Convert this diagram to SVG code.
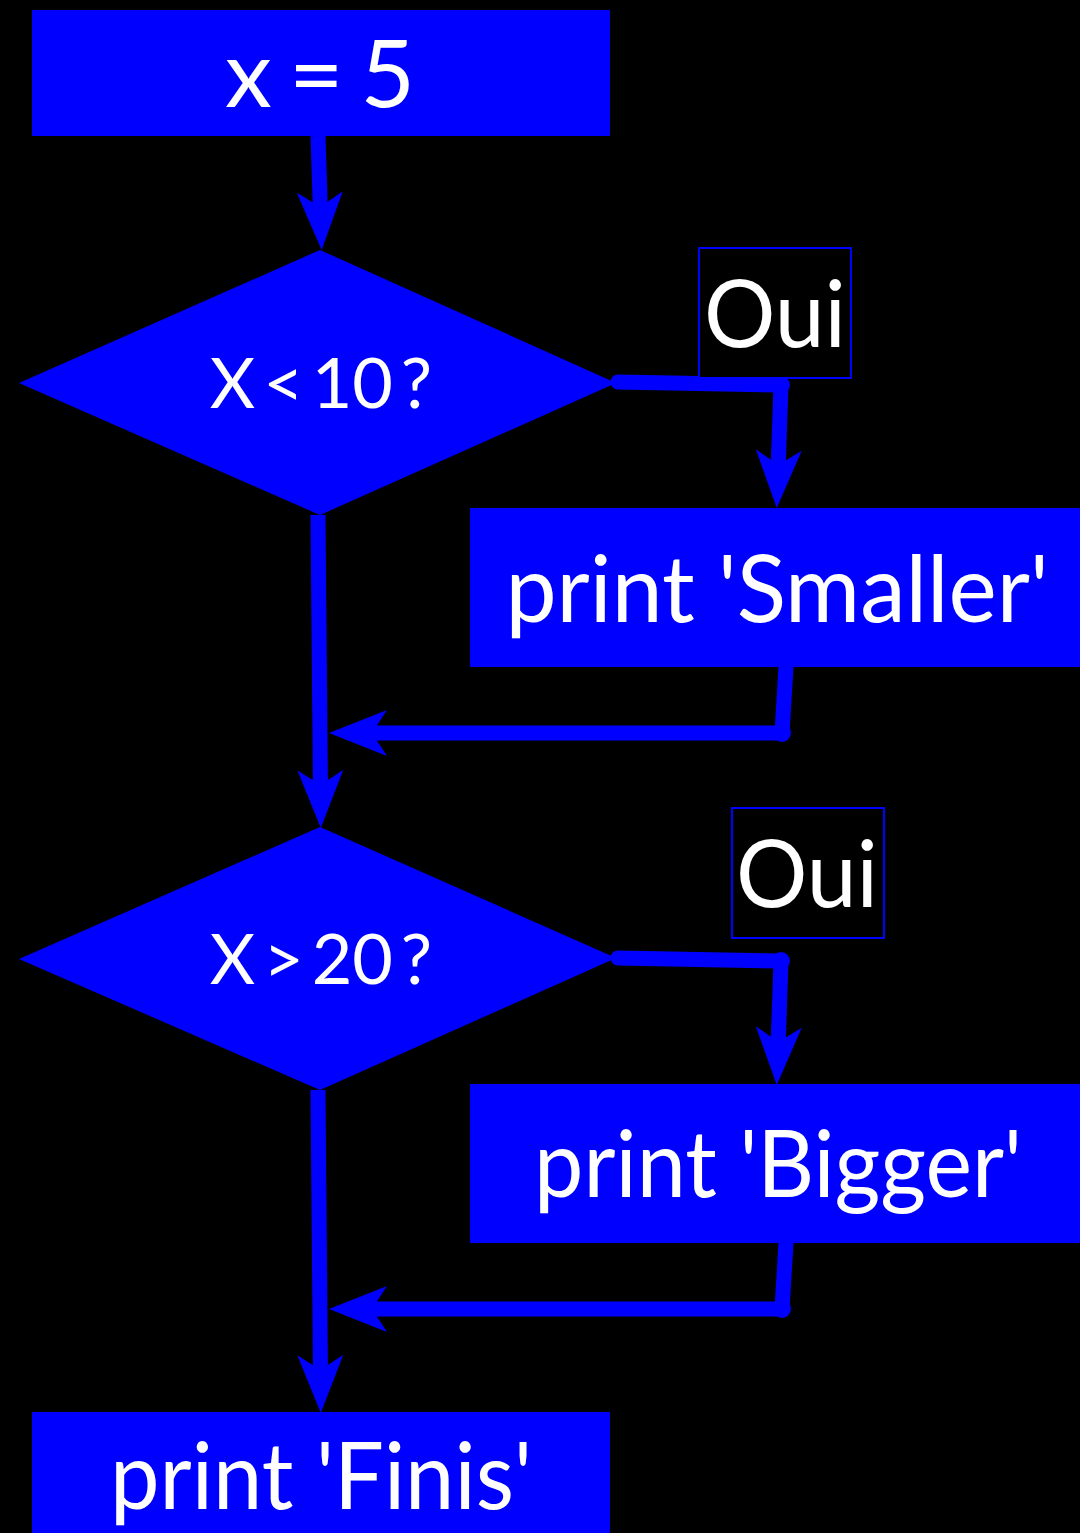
<svg xmlns="http://www.w3.org/2000/svg" width="1080" height="1533" viewBox="0 0 1080 1533">
  <style>
    .shape { fill: #0000ff; }
    .label { fill: #ffffff; font-family: Lato, "Open Sans", "Liberation Sans", sans-serif; text-anchor: middle; }
    .big { font-size: 94px; }
    .cond { font-size: 70px; word-spacing: -10px; }
    .tag { fill: #000000; stroke: #0000ff; stroke-width: 2; }
    .wire { fill: none; stroke: #0000ff; stroke-width: 15; stroke-linecap: round; stroke-linejoin: round; }
    .wire.plain { stroke-linecap: butt; }
    .dot { fill: #0000ff; }
  </style>
  <defs>
    <marker id="head" viewBox="0 -23 58 46" markerWidth="58" markerHeight="46" refX="22" refY="0" orient="auto" markerUnits="userSpaceOnUse">
      <path d="M0,-23 L58,0 L0,23 L15,0 Z" fill="#0000ff"/>
    </marker>
  </defs>

  <rect width="1080" height="1533" fill="#000000"/>

  <!-- connectors -->
  <g id="connectors">
    <!-- x = 5 to first test -->
    <path class="wire plain" d="M318,136 L320.5,214" marker-end="url(#head)"/>
    <!-- first test, yes branch -->
    <path class="wire" d="M618,382 L781,385 L778,472" marker-end="url(#head)"/>
    <circle class="dot" cx="781" cy="385" r="9"/>
    <!-- Smaller back to main line -->
    <path class="wire" d="M786,667 L782,733 L365,733" marker-end="url(#head)"/>
    <circle class="dot" cx="782" cy="733" r="9"/>
    <!-- first test, main line down -->
    <path class="wire plain" d="M318,515 L320.5,792" marker-end="url(#head)"/>
    <!-- second test, yes branch -->
    <path class="wire" d="M618,958 L781,961 L778,1049" marker-end="url(#head)"/>
    <circle class="dot" cx="781" cy="961" r="9"/>
    <!-- Bigger back to main line -->
    <path class="wire" d="M786,1243 L782,1309 L365,1309" marker-end="url(#head)"/>
    <circle class="dot" cx="782" cy="1309" r="9"/>
    <!-- second test, main line down -->
    <path class="wire plain" d="M318,1090 L320.5,1377" marker-end="url(#head)"/>
  </g>

  <!-- nodes -->
  <g id="assign">
    <rect class="shape" x="32" y="10" width="578" height="126"/>
    <text class="label big" x="320" y="107" textLength="190" lengthAdjust="spacing">x = 5</text>
  </g>

  <g id="test-small">
    <polygon class="shape" points="320,250 616,383 320,515 19,383"/>
    <text class="label cond" x="321" y="408">X &lt; 10 ?</text>
  </g>

  <g id="yes-small">
    <rect class="tag" x="699" y="248" width="152" height="130"/>
    <text class="label big" x="775" y="347" textLength="142" lengthAdjust="spacingAndGlyphs">Oui</text>
  </g>

  <g id="print-smaller">
    <rect class="shape" x="470" y="508" width="610" height="159"/>
    <text class="label big" x="777" y="622" textLength="543" lengthAdjust="spacingAndGlyphs">print 'Smaller'</text>
  </g>

  <g id="test-big">
    <polygon class="shape" points="320,827 616,958 320,1090 19,959"/>
    <text class="label cond" x="321" y="984">X &gt; 20 ?</text>
  </g>

  <g id="yes-big">
    <rect class="tag" x="732" y="808" width="152" height="130"/>
    <text class="label big" x="807" y="907" textLength="142" lengthAdjust="spacingAndGlyphs">Oui</text>
  </g>

  <g id="print-bigger">
    <rect class="shape" x="470" y="1084" width="610" height="159"/>
    <text class="label big" x="778" y="1197" textLength="488" lengthAdjust="spacingAndGlyphs">print 'Bigger'</text>
  </g>

  <g id="print-finis">
    <rect class="shape" x="32" y="1412" width="578" height="130"/>
    <text class="label big" x="321" y="1509" textLength="422" lengthAdjust="spacingAndGlyphs">print 'Finis'</text>
  </g>
</svg>
